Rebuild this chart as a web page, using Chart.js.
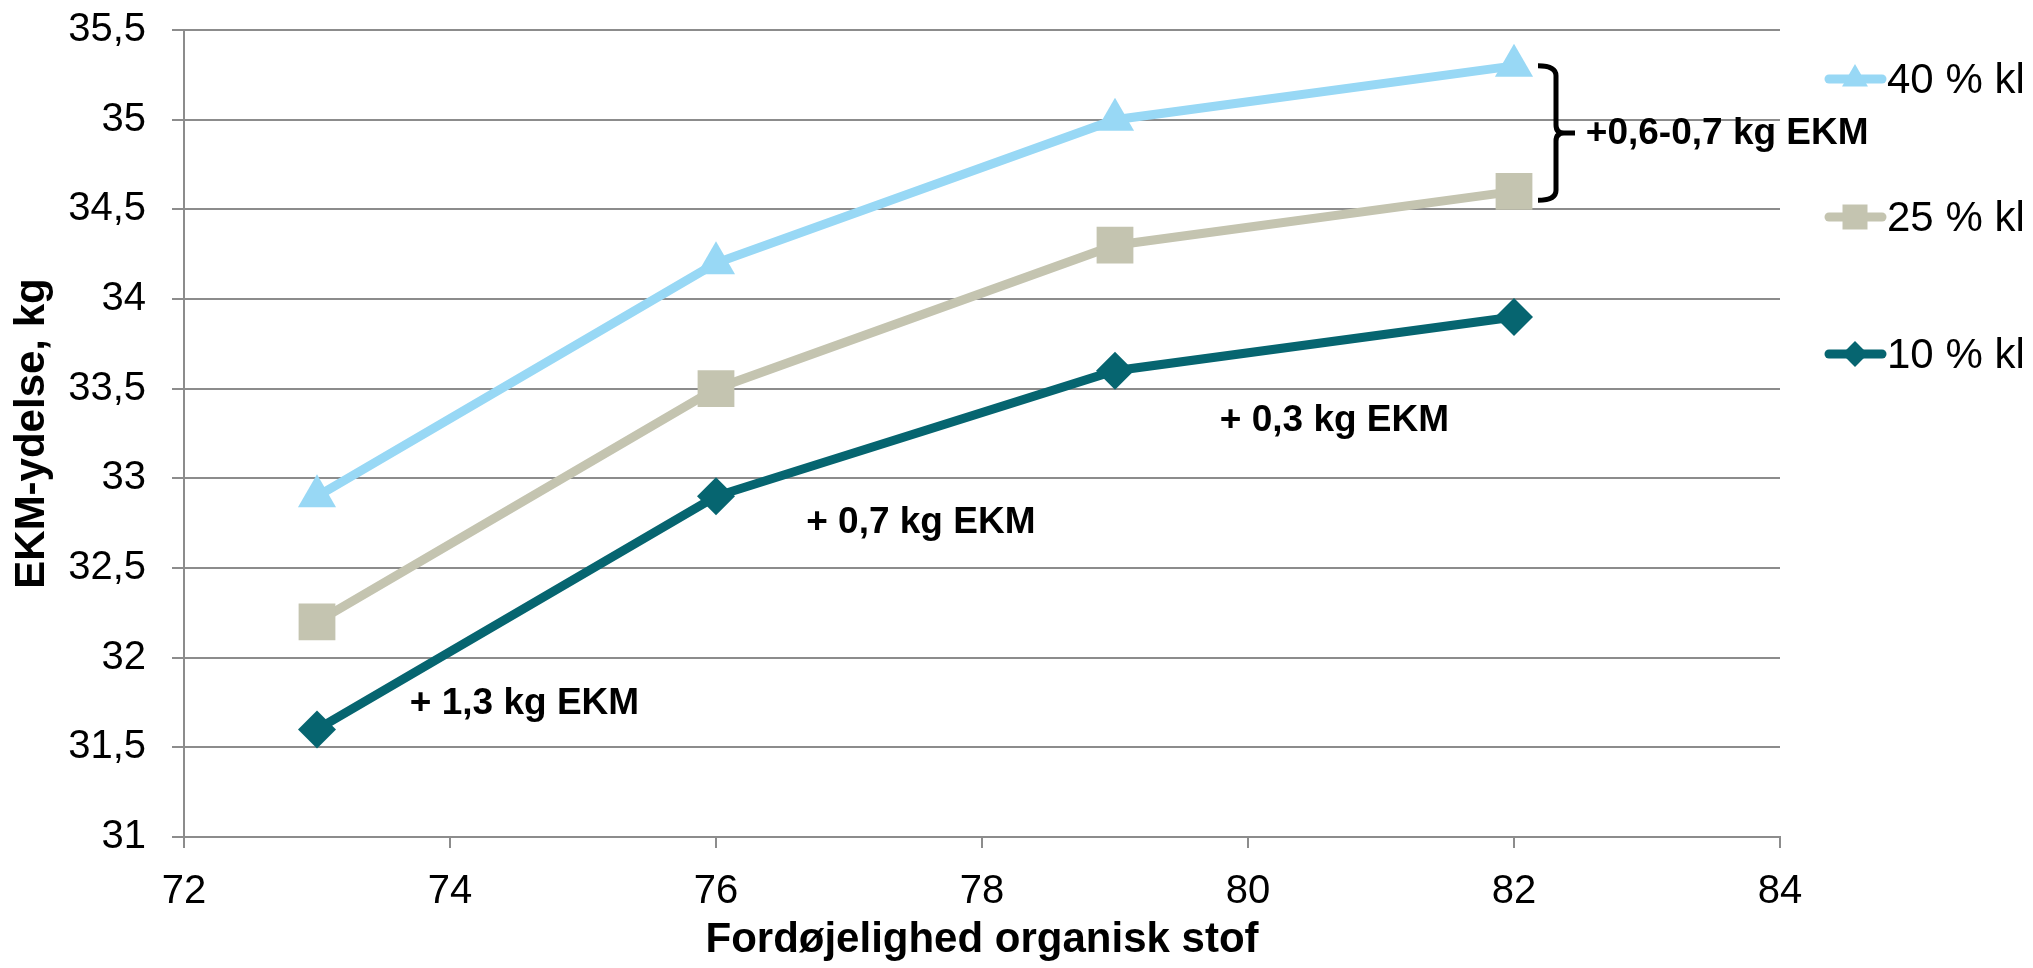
<!DOCTYPE html>
<html>
<head>
<meta charset="utf-8">
<script src="https://cdn.jsdelivr.net/npm/chart.js@4"></script>
<style>
  body { margin: 0; background: #fff; }
  #wrap { width: 2033px; height: 968px; }
</style>
</head>
<body>
<div id="wrap"><canvas id="ekmChart" width="2033" height="968"></canvas></div>
<script>
const xValues = [73, 76, 79, 82];
const series40 = [32.9, 34.2, 35.0, 35.3];
const series25 = [32.2, 33.5, 34.3, 34.6];
const series10 = [31.6, 32.9, 33.6, 33.9];
const seriesNames = ['40 % kl', '25 % kl', '10 % kl'];
const yRange = [31, 35.5];
const xRange = [72, 84];

// annotation texts placed at data coordinates
const noteTexts = ['+ 1,3 kg EKM', '+ 0,7 kg EKM', '+ 0,3 kg EKM', '+0,6-0,7 kg EKM'];
const noteX = [74.56, 77.54, 80.65, 82.54];
const noteY = [31.74, 32.75, 33.32, 34.92];
const bracketRange = [34.55, 35.3];

const FONT = '"Liberation Sans", Arial, sans-serif';
const colors = ['#98d8f5', '#c4c4b0', '#066570'];
const markers = ['triangle', 'rect', 'rectRot'];
const markerRadius = [22, 26, 19];
const gridColor = '#8c8c8c';

function toPoints(ys) {
    return xValues.map((x, i) => ({ x: x, y: ys[i] }));
}

const allSeries = [series40, series25, series10];
const datasets = allSeries.map((ys, i) => ({
    label: seriesNames[i],
    data: toPoints(ys),
    borderColor: colors[i],
    backgroundColor: colors[i],
    borderWidth: 9,
    pointStyle: markers[i],
    pointRadius: markerRadius[i],
    pointBorderWidth: 0,
    pointBackgroundColor: colors[i],
    tension: 0
}));

// legend drawn by hand: line with marker, then label
const legendPlugin = {
    id: 'sideLegend',
    afterDraw(chart) {
        const ctx = chart.ctx;
        const rowsY = [79, 217, 354];
        ctx.save();
        datasets.forEach((ds, i) => {
            const y = rowsY[i];
            ctx.strokeStyle = ds.borderColor;
            ctx.lineWidth = 9;
            ctx.lineCap = 'round';
            ctx.beginPath();
            ctx.moveTo(1829, y);
            ctx.lineTo(1882, y);
            ctx.stroke();
            ctx.fillStyle = ds.backgroundColor;
            Chart.helpers.drawPoint(ctx, {
                pointStyle: ds.pointStyle,
                radius: ds.pointRadius * 0.68,
                borderWidth: 0,
                rotation: 0
            }, 1855, y);
            ctx.fillStyle = '#000';
            ctx.font = '42px ' + FONT;
            ctx.textAlign = 'left';
            ctx.textBaseline = 'middle';
            ctx.fillText(ds.label, 1887, y + 2);
        });
        ctx.restore();
    }
};

const notesPlugin = {
    id: 'notes',
    afterDatasetsDraw(chart) {
        const ctx = chart.ctx;
        const xs = chart.scales.x, ys = chart.scales.y;
        ctx.save();
        ctx.fillStyle = '#000';
        ctx.font = 'bold 37px ' + FONT;
        ctx.textBaseline = 'middle';
        noteTexts.forEach((t, i) => {
            ctx.textAlign = i === noteTexts.length - 1 ? 'left' : 'center';
            ctx.fillText(t, xs.getPixelForValue(noteX[i]), ys.getPixelForValue(noteY[i]));
        });

        // curly bracket right of the last points
        const bx = xs.getPixelForValue(xValues[xValues.length - 1]);
        const top = ys.getPixelForValue(bracketRange[1]);
        const bot = ys.getPixelForValue(bracketRange[0]);
        const mid = (top + bot) / 2;
        const l = bx + 24, v = bx + 42, tip = bx + 61;
        ctx.strokeStyle = '#000';
        ctx.lineWidth = 5;
        ctx.lineJoin = 'round';
        ctx.beginPath();
        ctx.moveTo(l, top);
        ctx.quadraticCurveTo(v, top, v, top + 10);
        ctx.lineTo(v, mid - 8);
        ctx.quadraticCurveTo(v, mid, v + 8, mid);
        ctx.lineTo(tip, mid);
        ctx.moveTo(v + 8, mid);
        ctx.quadraticCurveTo(v, mid, v, mid + 8);
        ctx.lineTo(v, bot - 10);
        ctx.quadraticCurveTo(v, bot, l, bot);
        ctx.stroke();
        ctx.restore();
    }
};

const ctx = document.getElementById('ekmChart').getContext('2d');
new Chart(ctx, {
    type: 'line',
    data: { datasets: datasets },
    options: {
        responsive: false,
        animation: false,
        layout: { padding: { top: 30, right: 253, left: 0, bottom: 0 } },
        plugins: {
            legend: { display: false },
            tooltip: { enabled: false }
        },
        scales: {
            x: {
                type: 'linear',
                min: xRange[0],
                max: xRange[1],
                afterFit(scale) {
                    scale.height = 131;
                    scale.paddingLeft = 0;
                    scale.paddingRight = 0;
                },
                ticks: {
                    stepSize: 2,
                    color: '#000',
                    padding: 20,
                    maxRotation: 0,
                    font: { family: FONT, size: 40 }
                },
                grid: {
                    drawOnChartArea: false,
                    drawTicks: true,
                    tickLength: 11,
                    color: gridColor,
                    lineWidth: 2
                },
                border: { display: true, color: gridColor, width: 2 },
                title: {
                    display: true,
                    text: 'Fordøjelighed organisk stof',
                    color: '#000',
                    padding: { top: 0, bottom: 2 },
                    font: { family: FONT, size: 42, weight: 'bold' }
                }
            },
            y: {
                min: yRange[0],
                max: yRange[1],
                afterFit(scale) {
                    scale.width = 184;
                    scale.paddingTop = 0;
                    scale.paddingBottom = 0;
                },
                ticks: {
                    stepSize: 0.5,
                    color: '#000',
                    padding: 26,
                    font: { family: FONT, size: 40 },
                    callback: v => String(v).replace('.', ',')
                },
                grid: {
                    color: gridColor,
                    lineWidth: 2,
                    tickLength: 12
                },
                border: { display: true, color: gridColor, width: 2 },
                title: {
                    display: true,
                    text: 'EKM-ydelse, kg',
                    color: '#000',
                    padding: { top: 7, bottom: 0 },
                    font: { family: FONT, size: 42, weight: 'bold' }
                }
            }
        }
    },
    plugins: [legendPlugin, notesPlugin]
});
</script>
</body>
</html>
